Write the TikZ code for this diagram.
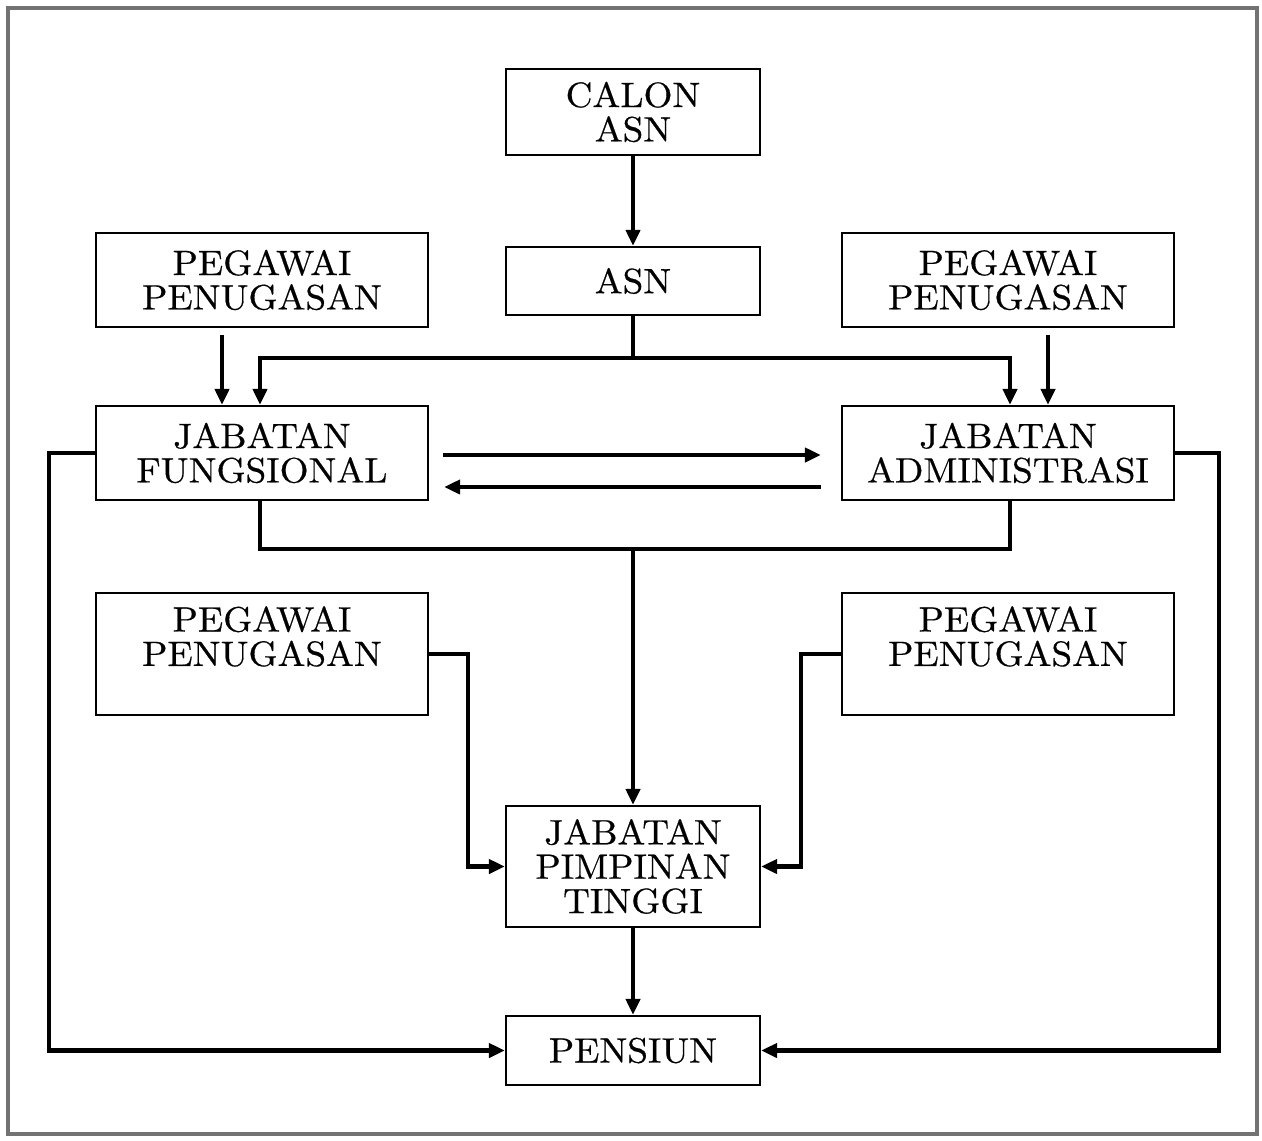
\documentclass[tikz,border=0pt]{standalone}
\usepackage{fontspec}
\usetikzlibrary{arrows.meta}
\newfontfamily\boxfam{lmroman10-regular.otf}[FakeStretch=1.055,FakeBold=0.5]
\newcommand{\boxfont}{\boxfam\fontsize{17.6}{17.2}\selectfont}
\tikzset{
  box/.style={draw, line width=1.1pt, inner sep=0pt, align=center, font=\boxfont, fill=white},
  colbox/.style={box, minimum width=127pt},
  sidebox/.style={box, minimum width=166pt},
  txt/.style={inner sep=0pt, align=center, font=\boxfont},
  conn/.style={line width=2.3pt, line join=miter},
  arr/.style={conn, -{Triangle[length=8pt,width=7pt]}},
  frame/.style={draw=black!55, line width=1.6pt}
}
\begin{document}
\begin{tikzpicture}[x=0.5pt,y=-0.5pt]
\useasboundingbox (0,0) rectangle (1262,1140);
\fill[white] (0,0) rectangle (1262,1140);
\draw[frame] (8,8) rectangle (1257,1134);

% nodes
\node[colbox, minimum height=43pt] (calon) at (633,112) {CALON\\ASN};
\node[colbox, minimum height=34pt] (asn) at (633,281) {ASN};
\node[sidebox, minimum height=47pt] (pl1) at (262,280) {PEGAWAI\\PENUGASAN};
\node[sidebox, minimum height=47pt] (pr1) at (1008,280) {PEGAWAI\\PENUGASAN};
\node[sidebox, minimum height=47pt] (jf) at (262,453) {JABATAN\\FUNGSIONAL};
\node[sidebox, minimum height=47pt] (ja) at (1008,453) {JABATAN\\ADMINISTRASI};
\node[sidebox, minimum height=61pt] (pl2) at (262,654) {};
\node[txt, anchor=north] (pl2t) at ([yshift=-7pt]pl2.north) {PEGAWAI\\PENUGASAN};
\node[sidebox, minimum height=61pt] (pr2) at (1008,654) {};
\node[txt, anchor=north] (pr2t) at ([yshift=-7pt]pr2.north) {PEGAWAI\\PENUGASAN};
\node[colbox, minimum height=60.5pt] (jpt) at (633,866.5) {JABATAN\\PIMPINAN\\TINGGI};
\node[colbox, minimum height=34.5pt] (pen) at (633,1050.5) {PENSIUN};

% junction coordinates
\coordinate (top) at (633,358);
\coordinate (bot) at (633,549);

% connectors
\draw[arr] (calon.south) -- (asn.north);
\draw[conn] (asn.south) -- (top);
\draw[arr] (top) -| ([xshift=-1pt]jf.north);
\draw[arr] (top) -| ([xshift=1pt]ja.north);
\draw[arr] ([xshift=-20pt,yshift=-3.5pt]pl1.south) -- ([xshift=-20pt]jf.north);
\draw[arr] ([xshift=20pt,yshift=-3.5pt]pr1.south) -- ([xshift=20pt]ja.north);
\draw[arr] ([xshift=7pt,yshift=-1pt]jf.east) -- ([xshift=-10pt,yshift=-1pt]ja.west);
\draw[arr] ([xshift=-10pt,yshift=-17pt]ja.west) -- ([xshift=7.5pt,yshift=-17pt]jf.east);
\draw[conn] ([xshift=-1pt]jf.south) |- (bot) -| ([xshift=1pt]ja.south);
\draw[arr] (bot) -- (jpt.north);
\draw[arr] (pl2.east) -- ++(39,0) |- (jpt.west);
\draw[arr] (pr2.west) -- ++(-40,0) |- (jpt.east);
\draw[arr] (jpt.south) -- (pen.north);
\draw[arr] (jf.west) -- ++(-46,0) |- (pen.west);
\draw[arr] (ja.east) -- ++(44,0) |- (pen.east);
\end{tikzpicture}
\end{document}
